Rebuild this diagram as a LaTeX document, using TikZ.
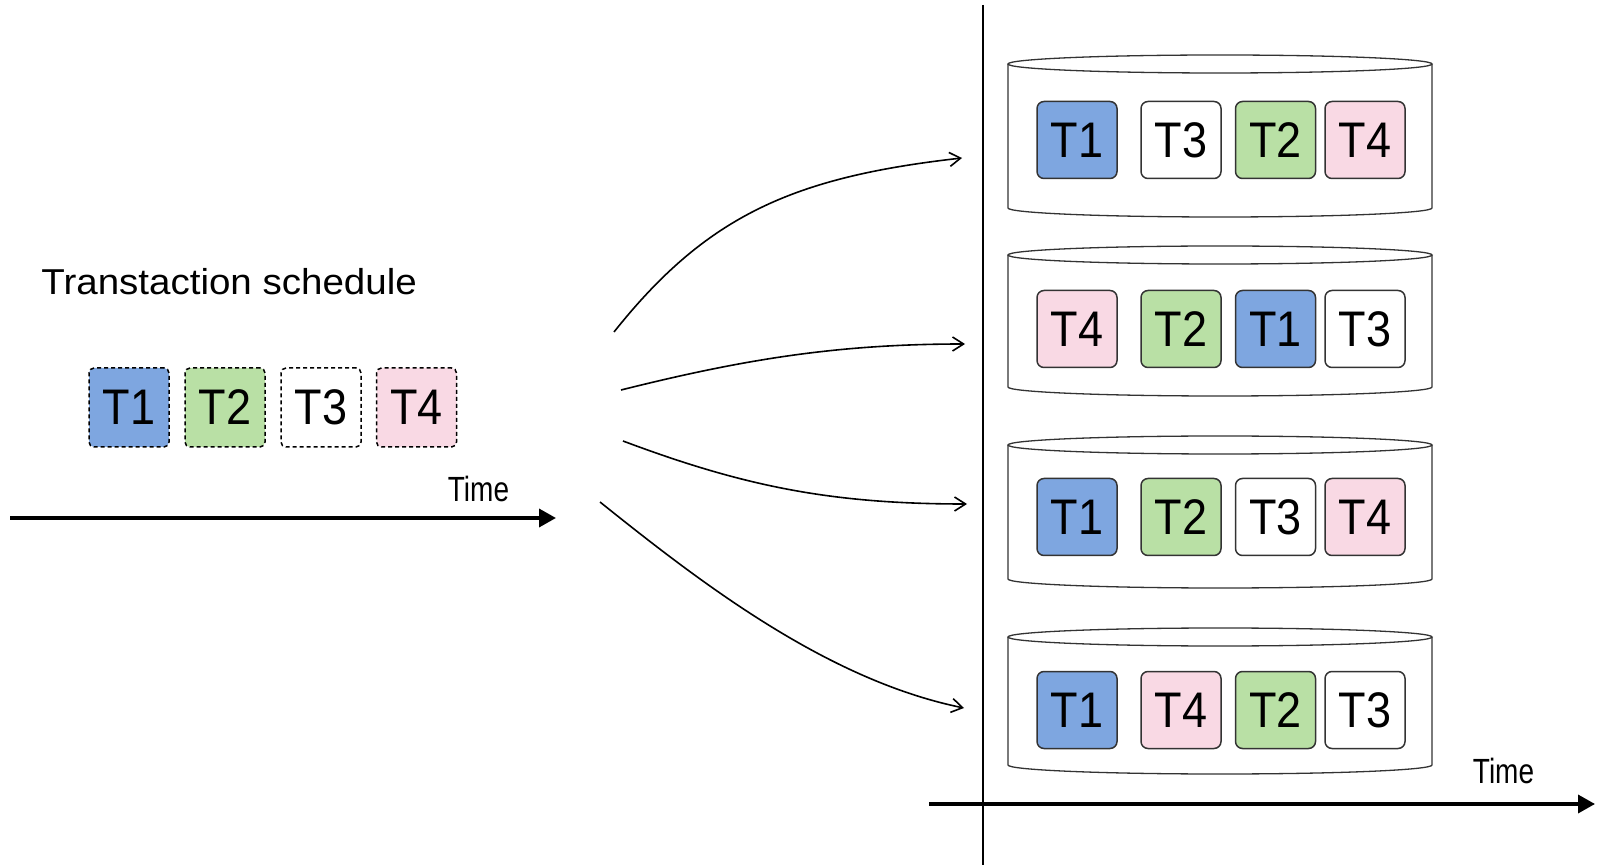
\documentclass[tikz,border=0pt]{standalone}
\usepackage{fontspec}
\setmainfont{Liberation Sans}
\usepackage{graphicx}
\usetikzlibrary{arrows.meta}
\definecolor{c1}{HTML}{7EA6E0}
\definecolor{c2}{HTML}{B9E0A5}
\definecolor{c3}{HTML}{FFFFFF}
\definecolor{c4}{HTML}{F9D9E4}
\definecolor{edge}{HTML}{333333}
\newcommand{\lab}[1]{\scalebox{0.9}[1]{#1}}
\newcommand{\drum}[2]{%
  \draw[cylline] (1220,{#1+9}) ellipse [x radius=212, y radius=9];
  \draw[cylline] (1008,{#1+9}) -- (1008,#2)
     arc[start angle=180, end angle=0, x radius=212, y radius=9]
     -- (1432,{#1+9});
}
\begin{document}
\begin{tikzpicture}[x=0.5pt,y=-0.5pt,
  rbox/.style={draw=edge, line width=0.75pt, rounded corners=3.5pt,
    minimum width=40pt, minimum height=38.5pt, inner sep=0pt,
    font=\fontsize{25}{25}\selectfont},
  sbox/.style={draw=black, line width=0.75pt, dash pattern=on 2pt off 1.5pt,
    rounded corners=2.5pt, minimum width=40pt, minimum height=39.5pt,
    inner sep=0pt, font=\fontsize{25}{25}\selectfont},
  cylline/.style={draw=edge, line width=0.65pt},
  timeaxis/.style={line width=1.75pt, -{Triangle[length=8.5pt,width=9pt]}},
  flow/.style={line width=0.8pt, -{Straight Barb[length=5.5pt,width=7pt]}},
  timelab/.style={font=\fontsize{17.5}{17.5}\selectfont, inner sep=0pt, anchor=base}
]
\useasboundingbox (0,0) rectangle (1600,865);

% title
\node[anchor=base west, inner sep=0pt, font=\fontsize{18}{18}\selectfont] (title) at (41,295)
  {\scalebox{1.07}[1]{Transtaction schedule}};

% schedule boxes
\node[sbox, fill=c1] (s1b) at (129,407.5) {\lab{T1}};
\node[sbox, fill=c2] (s2b) at (225,407.5) {\lab{T2}};
\node[sbox, fill=c3] (s3b) at (321,407.5) {\lab{T3}};
\node[sbox, fill=c4] (s4b) at (416.5,407.5) {\lab{T4}};

% left time axis
\coordinate (la0) at (10,518);
\coordinate (la1) at (556,518);
\draw[timeaxis] (la0) -- (la1);
\node[timelab] (ltime) at (478.5,502) {\scalebox{0.8}[1]{Time}};

% vertical line and bottom axis
\coordinate (v0) at (983,5);
\coordinate (v1) at (983,865);
\draw[line width=0.75pt] (v0) -- (v1);
\coordinate (ba0) at (929,804);
\coordinate (ba1) at (1595,804);
\draw[timeaxis] (ba0) -- (ba1);
\node[timelab] (btime) at (1503.5,783) {\scalebox{0.8}[1]{Time}};

% cylinders
\drum{55}{208}
\drum{246}{387}
\drum{436}{579}
\drum{628}{765}

% boxes inside cylinders
\foreach \r/\ty/\a/\b/\c/\d in {1/140/1/3/2/4, 2/329/4/2/1/3, 3/517/1/2/3/4, 4/710/1/4/2/3}{
  \node[rbox, fill=c\a] (r\r a) at (1077,\ty) {\lab{T\a}};
  \node[rbox, fill=c\b] (r\r b) at (1181,\ty) {\lab{T\b}};
  \node[rbox, fill=c\c] (r\r c) at (1275.5,\ty) {\lab{T\c}};
  \node[rbox, fill=c\d] (r\r d) at (1365,\ty) {\lab{T\d}};
}

% flow arrows
\coordinate (f1s) at (614,332);  \coordinate (f1e) at (962,158);
\coordinate (f2s) at (621,390);  \coordinate (f2e) at (965,344);
\coordinate (f3s) at (623,441);  \coordinate (f3e) at (967,504);
\coordinate (f4s) at (600,502);  \coordinate (f4e) at (964,708);
\draw[flow] (f1s) .. controls (707,215) and (794,177) .. (f1e);
\draw[flow] (f2s) .. controls (741,360) and (835,344) .. (f2e);
\draw[flow] (f3s) .. controls (743,486) and (830,504) .. (f3e);
\draw[flow] (f4s) .. controls (701,583) and (827,680) .. (f4e);
\end{tikzpicture}
\end{document}
